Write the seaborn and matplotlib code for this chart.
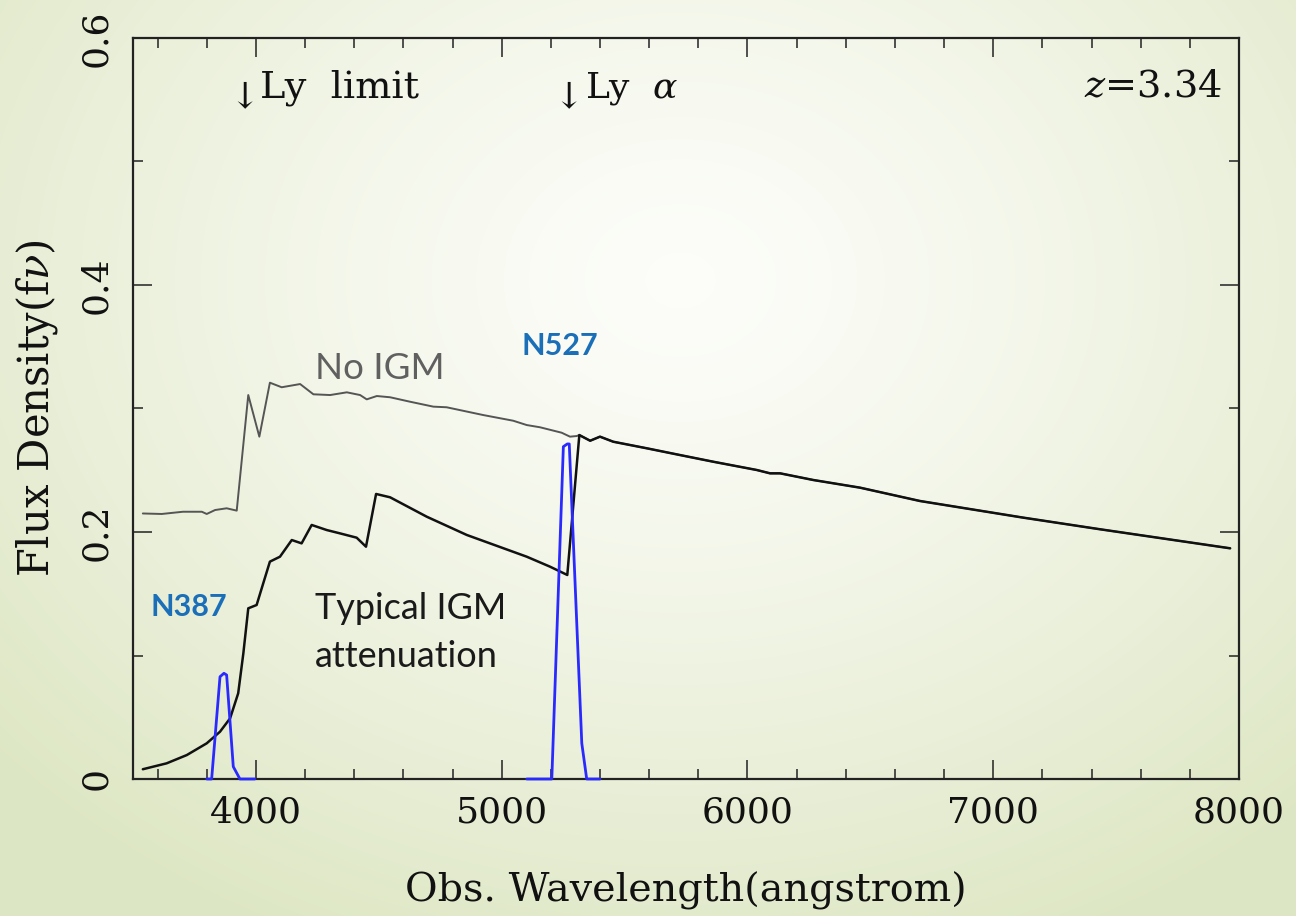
import numpy as np
import pandas as pd
import matplotlib
matplotlib.use("Agg")
import matplotlib.pyplot as plt
from matplotlib.ticker import MultipleLocator, FixedLocator, FixedFormatter
import seaborn as sns

# ---------------- data ----------------
# Intrinsic spectrum blueward of Ly-alpha (no IGM)
wl_blue_noigm = [3540, 3617, 3703, 3780, 3800, 3834, 3881, 3922, 3969, 4014, 4057, 4105,
                 4180, 4234, 4302, 4370, 4424, 4451, 4492, 4546, 4627, 4722, 4776, 4925,
                 5047, 5102, 5156, 5244, 5278, 5305]
flux_blue_noigm = [0.2150, 0.2146, 0.2164, 0.2164, 0.2146, 0.2178, 0.2192, 0.2173, 0.3109,
                   0.2772, 0.3209, 0.3172, 0.3198, 0.3115, 0.3109, 0.3131, 0.3109, 0.3074,
                   0.3101, 0.3091, 0.3055, 0.3015, 0.3010, 0.2947, 0.2901, 0.2866, 0.2848,
                   0.2804, 0.2772, 0.2777]

# Attenuated spectrum blueward of Ly-alpha (typical IGM)
wl_blue_igm = [3540, 3637, 3719, 3800, 3854, 3895, 3928, 3949, 3969, 4003, 4030, 4057,
               4098, 4146, 4186, 4227, 4288, 4342, 4410, 4448, 4489, 4546, 4695, 4858,
               5102, 5197, 5267]
flux_blue_igm = [0.0079, 0.0127, 0.0194, 0.0289, 0.0383, 0.0491, 0.0694, 0.1018, 0.1382,
                 0.1409, 0.1585, 0.1760, 0.1800, 0.1935, 0.1908, 0.2057, 0.2016, 0.1989,
                 0.1954, 0.1881, 0.2308, 0.2281, 0.2124, 0.1976, 0.1800, 0.1719, 0.1652]

# Redward of Ly-alpha (both spectra identical)
wl_red = [5316, 5360, 5400, 5454, 5590, 5726, 5861, 6038, 6092, 6133, 6268, 6458,
          6702, 7123, 7435, 7964]
flux_red = [0.2785, 0.2739, 0.2772, 0.2731, 0.2678, 0.2623, 0.2569, 0.2502, 0.2475,
            0.2475, 0.2421, 0.2359, 0.2251, 0.2116, 0.2022, 0.1868]

# Narrow-band filter curves (scaled)
wl_n387 = [3800, 3820, 3854, 3870, 3881, 3908, 3935, 3996]
tr_n387 = [0.0, 0.0, 0.0828, 0.0856, 0.0842, 0.0100, 0.0, 0.0]
wl_n527 = [5102, 5204, 5251, 5267, 5275, 5326, 5346, 5400]
tr_n527 = [0.0, 0.0, 0.2691, 0.2713, 0.2713, 0.0289, 0.0, 0.0]

x_major = [4000, 5000, 6000, 7000, 8000]
x_labels = ["4000", "5000", "6000", "7000", "8000"]
y_major = [0.0, 0.2, 0.4, 0.6]
y_labels = ["0", "0.2", "0.4", "0.6"]

redshift_label = "3.34"
lyman_limit = 912 * (1 + 3.34)
lyman_alpha = 1216 * (1 + 3.34)

# ---------------- style ----------------
sns.set_theme(style="ticks")
plt.rcParams["font.family"] = ["DejaVu Serif", "DejaVu Sans"]
plt.rcParams["mathtext.fontset"] = "dejavuserif"

W, H = 1296, 916
fig = plt.figure(figsize=(W / 100, H / 100), dpi=100)

# slide-like radial gradient background
bg = fig.add_axes([0, 0, 1, 1], zorder=-10)
yy, xx = np.mgrid[0:H, 0:W]
r = np.sqrt(((xx - 680) / 900.0) ** 2 + ((yy - 280) / 720.0) ** 2)
t = np.clip(r, 0, 1) ** 1.3
c0 = np.array([0.990, 0.993, 0.978])
c1 = np.array([0.870, 0.905, 0.770])
img = c0[None, None, :] * (1 - t[..., None]) + c1[None, None, :] * t[..., None]
bg.imshow(img, aspect="auto", extent=[0, 1, 0, 1], origin="upper")
bg.axis("off")

ax = fig.add_axes([133 / W, 1 - 779 / H, (1239 - 133) / W, (779 - 38) / H])
ax.set_facecolor("none")

df_noigm = pd.DataFrame({"wl": wl_blue_noigm + wl_red, "flux": flux_blue_noigm + flux_red})
df_igm = pd.DataFrame({"wl": wl_blue_igm + wl_red, "flux": flux_blue_igm + flux_red})
df_n387 = pd.DataFrame({"wl": wl_n387, "flux": tr_n387})
df_n527 = pd.DataFrame({"wl": wl_n527, "flux": tr_n527})

sns.lineplot(data=df_noigm, x="wl", y="flux", ax=ax, color="#555555", lw=1.4,
             sort=False, estimator=None)
sns.lineplot(data=df_igm, x="wl", y="flux", ax=ax, color="#111111", lw=1.8,
             sort=False, estimator=None)
sns.lineplot(data=df_n387, x="wl", y="flux", ax=ax, color="#2a2aff", lw=2.0,
             sort=False, estimator=None, zorder=4, clip_on=False)
sns.lineplot(data=df_n527, x="wl", y="flux", ax=ax, color="#2a2aff", lw=2.0,
             sort=False, estimator=None, zorder=4, clip_on=False)

ax.set_xlim(3500, 8000)
ax.set_ylim(0, 0.6)

ax.xaxis.set_major_locator(FixedLocator(x_major))
ax.xaxis.set_major_formatter(FixedFormatter(x_labels))
ax.xaxis.set_minor_locator(MultipleLocator(200))
ax.yaxis.set_major_locator(FixedLocator(y_major))
ax.yaxis.set_major_formatter(FixedFormatter(y_labels))
ax.yaxis.set_minor_locator(MultipleLocator(0.1))

ax.tick_params(which="both", direction="in", top=True, right=True, color="#222222")
ax.tick_params(which="major", length=14, width=1.1)
ax.tick_params(which="minor", length=7.5, width=1.1)
ax.tick_params(axis="x", which="major", pad=12, labelsize=26, labelcolor="#111111")
ax.tick_params(axis="y", which="major", pad=14, labelsize=26, labelcolor="#111111",
               labelrotation=90)
for lab in ax.get_yticklabels():
    lab.set_verticalalignment("center")
for s in ax.spines.values():
    s.set_linewidth(1.6)
    s.set_color("#222222")

ax.set_xlabel("Obs. Wavelength(angstrom)", fontsize=28.5, color="#111111", labelpad=30)
ax.set_ylabel("Flux Density(f$\\nu$)", fontsize=30, color="#111111", labelpad=14)

# line-position annotations
ax.text(lyman_limit - 5, 0.566, "\u2193", fontsize=26, ha="center", va="top", color="#111111")
ax.text(lyman_limit + 60, 0.552, "Ly  limit", fontsize=27.5, ha="left", va="baseline",
        color="#111111")
ax.text(lyman_alpha - 5, 0.566, "\u2193", fontsize=26, ha="center", va="top", color="#111111")
ax.text(lyman_alpha + 60, 0.552, "Ly  $\\alpha$", fontsize=26, ha="left", va="baseline",
        color="#111111")
ax.text(7930, 0.553, "$z$=" + redshift_label, fontsize=27.5, ha="right", va="baseline",
        color="#111111")

sans = ["Lato", "DejaVu Sans"]
ax.text(4240, 0.332, "No IGM", fontsize=26.5, family=sans, color="#606060",
        ha="left", va="center")
ax.text(5237, 0.351, "N527", fontsize=22, family=sans, color="#1a6fb8",
        ha="center", va="center", fontweight="bold")
ax.text(3570, 0.139, "N387", fontsize=22, family=sans, color="#1a6fb8",
        ha="left", va="center", fontweight="bold")
ax.text(4240, 0.138, "Typical IGM", fontsize=26, family=sans, color="#1a1a1a",
        ha="left", va="center")
ax.text(4240, 0.099, "attenuation", fontsize=26, family=sans, color="#1a1a1a",
        ha="left", va="center")

fig.savefig("out.png", dpi=100)
